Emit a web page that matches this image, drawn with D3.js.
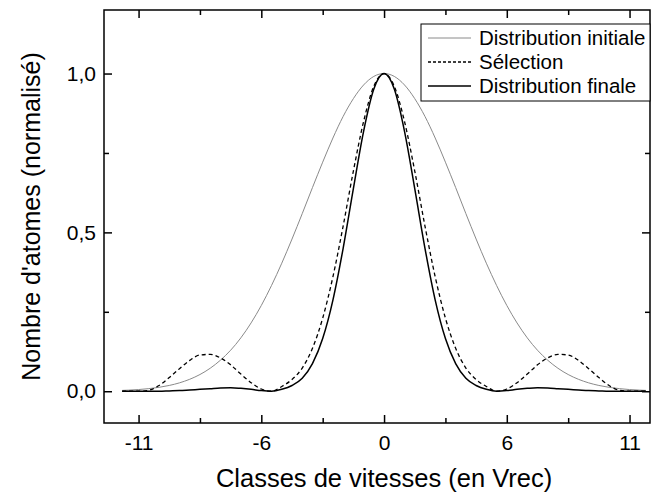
<!DOCTYPE html>
<html><head><meta charset="utf-8">
<script src="https://cdn.jsdelivr.net/npm/d3@7"></script>
<style>body{margin:0;background:#fff}svg{display:block;font-family:Arial,"Liberation Sans",sans-serif}</style>
</head><body>
<script>
// x positions (axis units; tick marks at -12,-6,0,6,12 carry labels -11,-6,0,6,11)
const xs = [-12.8,-12.5,-12,-11.5,-11,-10.5,-10,-9.5,-9,-8.5,-8,-7.5,-7,-6.5,-6,-5.5,-5,-4.5,-4,-3.5,-3,-2.5,-2,-1.5,-1,-0.5,0,
            0.5,1,1.5,2,2.5,3,3.5,4,4.5,5,5.5,6,6.5,7,7.5,8,8.5,9,9.5,10,10.5,11,11.5,12,12.5,12.8];
const initiale = [0.0026,0.0034,0.0053,0.0082,0.0123,0.0182,0.0264,0.0376,0.0526,0.0723,0.0976,0.129,0.168,0.215,0.270,0.333,0.403,0.479,0.559,0.641,0.721,0.797,0.865,0.921,0.964,0.991,1,
                  0.991,0.964,0.921,0.865,0.797,0.721,0.641,0.559,0.479,0.403,0.333,0.270,0.215,0.168,0.129,0.0976,0.0723,0.0526,0.0376,0.0264,0.0182,0.0123,0.0082,0.0053,0.0034,0.0026];
const selection = [0,0,0,0.003,0.018,0.043,0.071,0.097,0.114,0.116,0.105,0.083,0.054,0.027,0.007,0,0.015,0.037,0.073,0.135,0.230,0.360,0.520,0.693,0.849,0.960,1,
                   0.960,0.849,0.693,0.520,0.360,0.230,0.135,0.073,0.037,0.015,0,0.007,0.027,0.054,0.083,0.105,0.116,0.114,0.097,0.071,0.043,0.018,0.003,0,0,0];
const finale = [0,0,0,0,0,0.001,0.002,0.004,0.006,0.008,0.010,0.011,0.009,0.006,0.002,0,0.006,0.018,0.041,0.087,0.166,0.287,0.450,0.638,0.818,0.951,1,
                0.951,0.818,0.638,0.450,0.287,0.166,0.087,0.041,0.018,0.006,0,0.002,0.006,0.009,0.011,0.010,0.008,0.006,0.004,0.002,0.001,0,0,0,0,0];
const xTickValues = [-12,-6,0,6,12];
const xTickLabels = ["-11","-6","0","6","11"];
const xMinorTicks = [-9,-3,3,9];
const yTickValues = [0,0.5,1];
const yTickLabels = ["0,0","0,5","1,0"];
const yMinorTicks = [0.25,0.75];
const legendLabels = ["Distribution initiale","Sélection","Distribution finale"];

const W = 653, H = 495;
const L = 104, R = 650, T = 10, B = 423;
const svg = d3.select("body").append("svg").attr("width", W).attr("height", H);

const x = d3.scaleLinear().domain([-13.69, 13.0]).range([L, R]);
const y = d3.scaleLinear().domain([-0.1, 1.2]).range([B, T]);

const styles = [
  {stroke:"#8a8a8a", width:1, dash:null},
  {stroke:"#000", width:1.3, dash:"4,3"},
  {stroke:"#000", width:1.5, dash:null}
];
const series = [initiale, selection, finale];
const line = d3.line().x(d => x(d[0])).y(d => y(d[1])).curve(d3.curveMonotoneX);
series.forEach((s, i) => {
  svg.append("path").datum(xs.map((v, j) => [v, s[j]]))
    .attr("d", line).attr("fill", "none")
    .attr("stroke", styles[i].stroke).attr("stroke-width", styles[i].width)
    .attr("stroke-dasharray", styles[i].dash);
});

// frame
svg.append("rect").attr("x", L).attr("y", T).attr("width", R - L).attr("height", B - T)
  .attr("fill", "none").attr("stroke", "#000").attr("stroke-width", 1.5);

const fs = 21;
// bottom axis (ticks inward)
const xAxis = d3.axisBottom(x).tickValues(xTickValues).tickSize(-8).tickPadding(12)
  .tickFormat((d, i) => xTickLabels[i]);
const gx = svg.append("g").attr("transform", `translate(0,${B})`).call(xAxis);
gx.select(".domain").remove();
gx.selectAll("line").attr("stroke-width", 1.5);
gx.selectAll("text").attr("font-size", fs).attr("font-family", "Arial, Liberation Sans, sans-serif");
const gxm = svg.append("g").attr("transform", `translate(0,${B})`)
  .call(d3.axisBottom(x).tickValues(xMinorTicks).tickSize(-5).tickFormat(""));
gxm.select(".domain").remove(); gxm.selectAll("line").attr("stroke-width", 1.5);
// top axis mirror
const gt = svg.append("g").attr("transform", `translate(0,${T})`)
  .call(d3.axisTop(x).tickValues(xTickValues).tickSize(-8).tickFormat(""));
gt.select(".domain").remove(); gt.selectAll("line").attr("stroke-width", 1.5);
const gtm = svg.append("g").attr("transform", `translate(0,${T})`)
  .call(d3.axisTop(x).tickValues(xMinorTicks).tickSize(-5).tickFormat(""));
gtm.select(".domain").remove(); gtm.selectAll("line").attr("stroke-width", 1.5);

// left axis
const yAxis = d3.axisLeft(y).tickValues(yTickValues).tickSize(-8).tickPadding(8)
  .tickFormat((d, i) => yTickLabels[i]);
const gy = svg.append("g").attr("transform", `translate(${L},0)`).call(yAxis);
gy.select(".domain").remove();
gy.selectAll("line").attr("stroke-width", 1.5);
gy.selectAll("text").attr("font-size", fs).attr("font-family", "Arial, Liberation Sans, sans-serif");
const gym = svg.append("g").attr("transform", `translate(${L},0)`)
  .call(d3.axisLeft(y).tickValues(yMinorTicks).tickSize(-5).tickFormat(""));
gym.select(".domain").remove(); gym.selectAll("line").attr("stroke-width", 1.5);
// right axis mirror
const gr = svg.append("g").attr("transform", `translate(${R},0)`)
  .call(d3.axisRight(y).tickValues(yTickValues).tickSize(-8).tickFormat(""));
gr.select(".domain").remove(); gr.selectAll("line").attr("stroke-width", 1.5);
const grm = svg.append("g").attr("transform", `translate(${R},0)`)
  .call(d3.axisRight(y).tickValues(yMinorTicks).tickSize(-5).tickFormat(""));
grm.select(".domain").remove(); grm.selectAll("line").attr("stroke-width", 1.5);

// axis titles
svg.append("text").attr("x", x(0)).attr("y", 487).attr("text-anchor", "middle")
  .attr("font-size", 25.5).text("Classes de vitesses (en Vrec)");
svg.append("text").attr("transform", `translate(40,${(T + B) / 2}) rotate(-90)`)
  .attr("text-anchor", "middle").attr("font-size", 25).text("Nombre d'atomes (normalisé)");

// legend
const lg = svg.append("g");
lg.append("rect").attr("x", 421).attr("y", 24).attr("width", R - 421).attr("height", 77)
  .attr("fill", "#fff").attr("stroke", "#000").attr("stroke-width", 1);
legendLabels.forEach((t, i) => {
  const yy = 38 + i * 24;
  lg.append("line").attr("x1", 428).attr("x2", 471).attr("y1", yy).attr("y2", yy)
    .attr("stroke", styles[i].stroke).attr("stroke-width", styles[i].width)
    .attr("stroke-dasharray", i === 1 ? "3,2" : null);
  lg.append("text").attr("x", 479).attr("y", yy + 7).attr("font-size", 20.5).text(t);
});
</script>
</body></html>
